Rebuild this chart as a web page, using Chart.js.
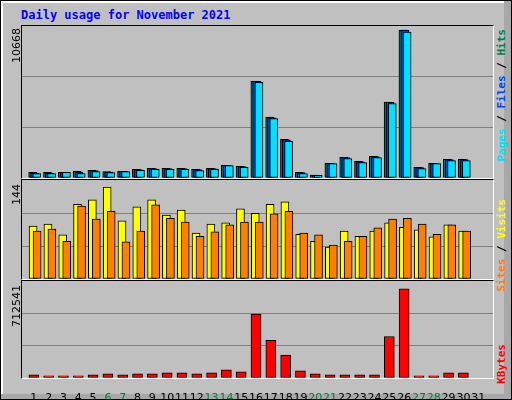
<!DOCTYPE html>
<html>
<head>
<meta charset="utf-8">
<script src="https://cdn.jsdelivr.net/npm/chart.js@4"></script>
<style>
  body { margin: 0; }
  #frame { position: relative; width: 510px; height: 398px; background: #c0c0c0;
    border: 1px solid #000; box-shadow: inset -7px -5px 0 #a8a8a8, inset 2px 2px 0 #fff; overflow: hidden; }
  .title { position: absolute; left: 20px; top: 7px; color: #0000ff; font: bold 12px "DejaVu Sans Mono", monospace; }
  .panel { position: absolute; left: 20px; width: 471px; border-top: 1px solid #000; border-left: 1px solid #000;
    border-bottom: 1px solid #fff; border-right: 1px solid #fff; }
  .panel canvas { position: absolute; left: 0; top: 0; }
  .vl { position: absolute; writing-mode: vertical-rl; transform: rotate(180deg); font: 11px "DejaVu Sans", sans-serif; color: #000; white-space: nowrap; }
  .vr { position: absolute; writing-mode: vertical-rl; transform: rotate(180deg); font: bold 11px "DejaVu Sans Mono", monospace; white-space: nowrap; }
</style>
</head>
<body>
<div id="frame">
  <div class="title">Daily usage for November 2021</div>
  <div class="panel" style="top:24px;height:152px"><canvas id="c1"></canvas></div>
  <div class="panel" style="top:178px;height:99px"><canvas id="c2"></canvas></div>
  <div class="panel" style="top:279px;height:97px"><canvas id="c3"></canvas></div>
  <div class="vl" style="left:9px;top:27px">10668</div>
  <div class="vl" style="left:9px;top:183px">144</div>
  <div class="vl" style="left:9px;top:284px">712541</div>
  <div class="vr" style="left:494px;top:28px"><span style="color:#00e0ff">Pages</span> / <span style="color:#0040ff">Files</span> / <span style="color:#008040">Hits</span></div>
  <div class="vr" style="left:494px;top:198px"><span style="color:#ff8000">Sites</span> / <span style="color:#ffff00">Visits</span></div>
  <div class="vr" style="left:494px;top:343px"><span style="color:#ff0000">KBytes</span></div>
</div>
<script>
const days = [1,2,3,4,5,6,7,8,9,10,11,12,13,14,15,16,17,18,19,20,21,22,23,24,25,26,27,28,29,30,31];
const weekend = [6,7,13,14,20,21,27,28];
const hits   = [410,410,410,482,554,458,482,627,699,699,699,627,699,916,844,6990,4386,2796,410,217,1060,1494,1205,1567,5471,10668,771,1060,1350,1350,0];
const files  = [360,360,410,434,530,434,482,603,675,675,675,603,675,916,820,6966,4338,2748,386,193,1036,1470,1157,1543,5447,10668,747,1036,1326,1326,0];
const pages  = [313,313,410,313,458,386,458,554,627,627,627,530,627,892,771,6893,4290,2652,313,193,1036,1398,1108,1470,5374,10523,675,1036,1253,1253,0];
const visits = [83,86,69,117,124,144,91,113,124,100,108,72,86,88,110,103,117,121,70,59,50,75,67,75,88,81,77,66,85,75,0];
const sites  = [75,78,59,114,94,106,58,75,116,95,89,67,74,85,89,89,102,106,72,69,53,59,67,80,94,95,86,70,85,75,0];
const kbytes = [26100,18300,18300,18300,26100,33900,26100,33900,33900,41800,41800,33900,41800,65200,49600,511600,300200,182700,57400,33900,26100,26100,26100,26100,331500,712541,18300,18300,41800,41800,0];

const xMin = 0.2, xMax = 32.0;
const pts = (arr, off) => arr.map((v, i) => ({ x: days[i] + off, y: v }));
const bar = (label, arr, off, color, w) => ({ label, data: pts(arr, off), backgroundColor: color,
  borderColor: '#000', borderWidth: 1, borderSkipped: false, barThickness: w, grouped: false });

function panel(id, w, h, datasets, yMax, withDays) {
  const cv = document.getElementById(id);
  cv.width = w; cv.height = h + (withDays ? 24 : 0);
  const x = withDays
    ? { type: 'linear', min: xMin, max: xMax, offset: false, position: 'bottom',
        afterFit: s => { s.height = 24; },
        afterBuildTicks: s => { s.ticks = days.map(d => ({ value: d })); },
        ticks: { autoSkip: false, maxRotation: 0, padding: 6,
                 font: { family: 'DejaVu Sans', size: 11 },
                 color: c => weekend.includes(c.tick.value) ? '#008040' : '#000' },
        grid: { display: false }, border: { display: false } }
    : { type: 'linear', min: xMin, max: xMax, display: false, offset: false };
  return new Chart(cv, {
    type: 'bar',
    data: { datasets },
    options: {
      responsive: false, animation: false,
      layout: { padding: 0 },
      plugins: { legend: { display: false }, tooltip: { enabled: false } },
      scales: {
        x,
        y: { min: 0, max: yMax, display: true,
             afterFit: s => { s.width = 0; },
             ticks: { display: false, stepSize: yMax / 3 },
             border: { display: false },
             grid: { drawTicks: false, lineWidth: 1,
                     color: c => (c.index === 1 || c.index === 2) ? '#808080' : 'rgba(0,0,0,0)' } }
      }
    }
  });
}

panel('c1', 471, 152, [
  bar('Pages', pages, 0.2, '#00e0ff', 8),
  bar('Files', files, 0.05, '#0040ff', 8),
  bar('Hits', hits, -0.08, '#008040', 8)
], 10958);
panel('c2', 471, 99, [
  bar('Sites', sites, 0.22, '#ff8000', 8),
  bar('Visits', visits, -0.05, '#ffff00', 8)
], 155);
panel('c3', 471, 97, [
  bar('KBytes', kbytes, 0, '#ff0000', 10)
], 775000, true);
</script>
</body>
</html>
